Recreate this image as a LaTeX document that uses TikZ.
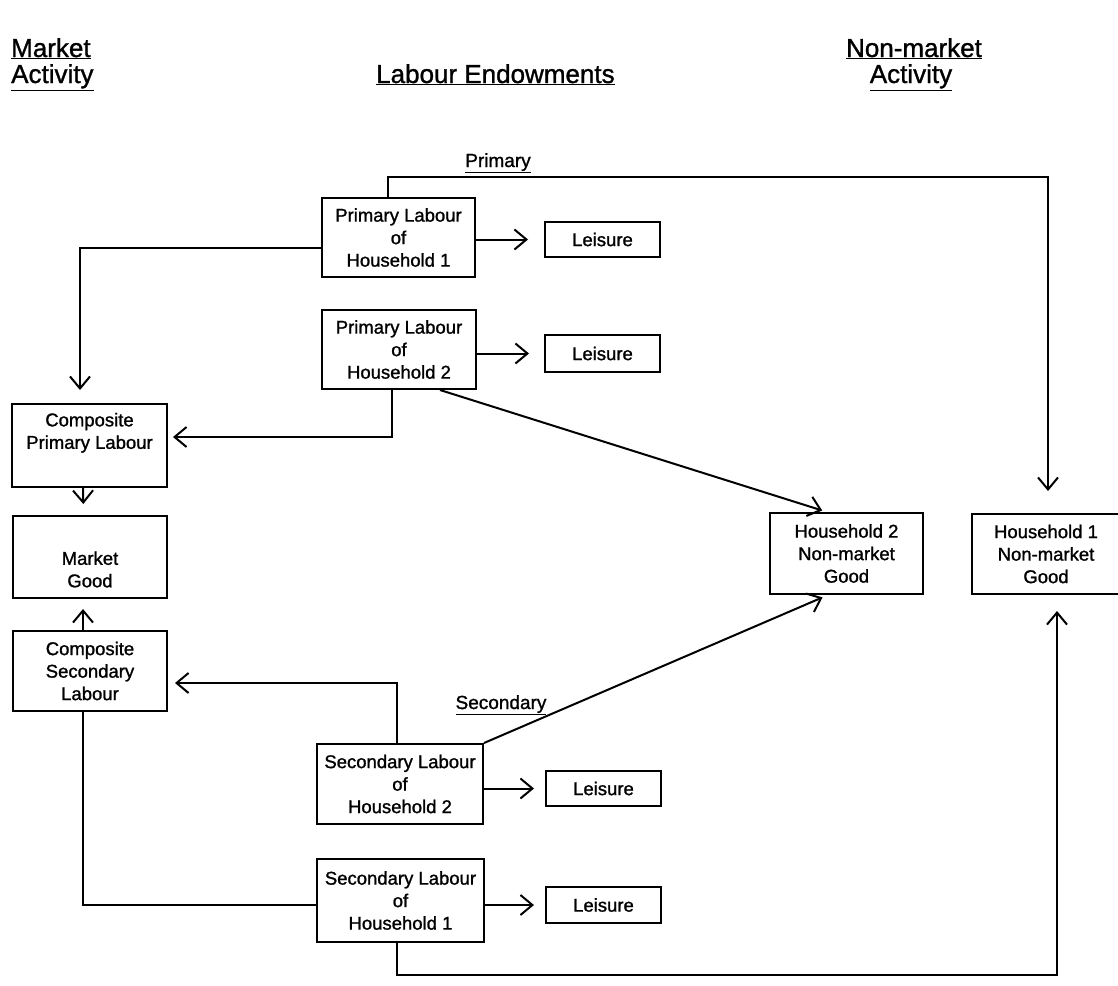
\documentclass[tikz,border=0pt]{standalone}
\usepackage{fontspec}
\setmainfont{Liberation Sans}[FakeBold=1.2]
\usetikzlibrary{arrows.meta,calc}
\begin{document}
\begin{tikzpicture}[x=1pt,y=-1pt,
  box/.style={draw,line width=2pt,inner sep=0pt,align=center,font=\fontsize{18.5}{22.5}\selectfont},
  conn/.style={line width=2pt},
  arr/.style={conn,-{Straight Barb[length=12pt,width=20pt,line width=2pt]}},
  lbl/.style={font=\fontsize{19}{22}\selectfont,inner sep=0pt},
  hdr/.style={font=\fontsize{26}{26}\selectfont,inner sep=0pt}]
\useasboundingbox (0,0) rectangle (1118,985);

% headers
\node[hdr,anchor=base west] (hm1) at (11,57) {\underline{Market}};
\node[hdr,anchor=base west] (hm2) at (11,83) {\underline{Activity}};
\node[hdr,anchor=base west] (hle) at (376,83) {\underline{Labour Endowments}};
\node[hdr,anchor=base] (hn1) at (914,57) {\underline{Non-market}};
\node[hdr,anchor=base] (hn2) at (911,83) {\underline{Activity}};

% boxes
\node[box,minimum width=153pt,minimum height=79pt] (pl1) at (398.5,237.5) {Primary Labour\\of\\Household 1};
\node[box,minimum width=154pt,minimum height=79pt] (pl2) at (399,349.5) {Primary Labour\\of\\Household 2};
\node[box,minimum width=115pt,minimum height=35pt] (l1) at (602.5,239.5) {Leisure};
\node[box,minimum width=115pt,minimum height=37pt] (l2) at (602.5,353.5) {Leisure};
\node[box,minimum width=155pt,minimum height=83pt] (cpl) at (89.5,445.5) {Composite\\Primary Labour\\\strut};
\node[box,minimum width=154pt,minimum height=82pt] (mg) at (90,557) {\strut\\Market\\Good};
\node[box,minimum width=154pt,minimum height=80pt] (csl) at (90,671) {Composite\\Secondary\\Labour};
\node[box,minimum width=153pt,minimum height=81pt] (h2) at (846.5,553.5) {Household 2\\Non-market\\Good};
\node[box,minimum width=148pt,minimum height=80pt] (h1) at (1046,554) {Household 1\\Non-market\\Good};
\node[box,minimum width=166pt,minimum height=80pt] (sl2) at (400,784) {Secondary Labour\\of\\Household 2};
\node[box,minimum width=167pt,minimum height=83pt] (sl1) at (400.5,900.5) {Secondary Labour\\of\\Household 1};
\node[box,minimum width=115pt,minimum height=35pt] (l3) at (603.5,788.5) {Leisure};
\node[box,minimum width=115pt,minimum height=36pt] (l4) at (603.5,905) {Leisure};

% labels
\node[lbl,anchor=base] (lp) at (498,167) {\underline{Primary}};
\node[lbl,anchor=base] (ls) at (501,709) {\underline{Secondary}};

% connectors
\draw[arr,shorten >=22pt] ($(pl1.north)+(-10.5,0)$) -- ++(0,-20) -| ($(h1.north)+(2,0)$);
\draw[arr,shorten >=16pt] (pl1.east |- l1.west) -- (l1.west);
\draw[arr,shorten >=15pt] (pl2.east |- l2.west) -- (l2.west);
\draw[arr,shorten >=13pt] ($(pl1.west)+(0,10)$) -| ($(cpl.north)+(-9.5,0)$);
\draw[arr,shorten >=5pt] ($(pl2.south)+(-7,0)$) |- ($(cpl.east)+(0,-8.5)$);
\draw[arr,shorten >=5pt] ($(pl2.south)+(41,0)$) -- ($(h2.north)+(-19.5,0)$);
\draw[arr,shorten >=11pt] ($(cpl.south)+(-6.5,0)$) -- ($(mg.north)+(-6.5,0)$);
\draw[arr,shorten >=10pt] ($(csl.north)+(-7,0)$) -- ($(mg.south)+(-7,0)$);
\draw[arr,shorten >=7pt] ($(sl2.north)+(-3,0)$) |- ($(csl.east)+(0,12)$);
\draw[arr,shorten >=6pt] (sl2.north east) -- ($(h2.south)+(-18.5,0)$);
\draw[arr,shorten >=11pt] (sl2.east |- l3.west) -- (l3.west);
\draw[conn] ($(csl.south)+(-7,0)$) |- ($(sl1.west)+(0,4.5)$);
\draw[arr,shorten >=11pt] (sl1.east |- l4.west) -- (l4.west);
\draw[arr,shorten >=16pt] ($(sl1.south)+(-3.5,0)$) -- ++(0,32) -| ($(h1.south)+(11,0)$);
\end{tikzpicture}
\end{document}
